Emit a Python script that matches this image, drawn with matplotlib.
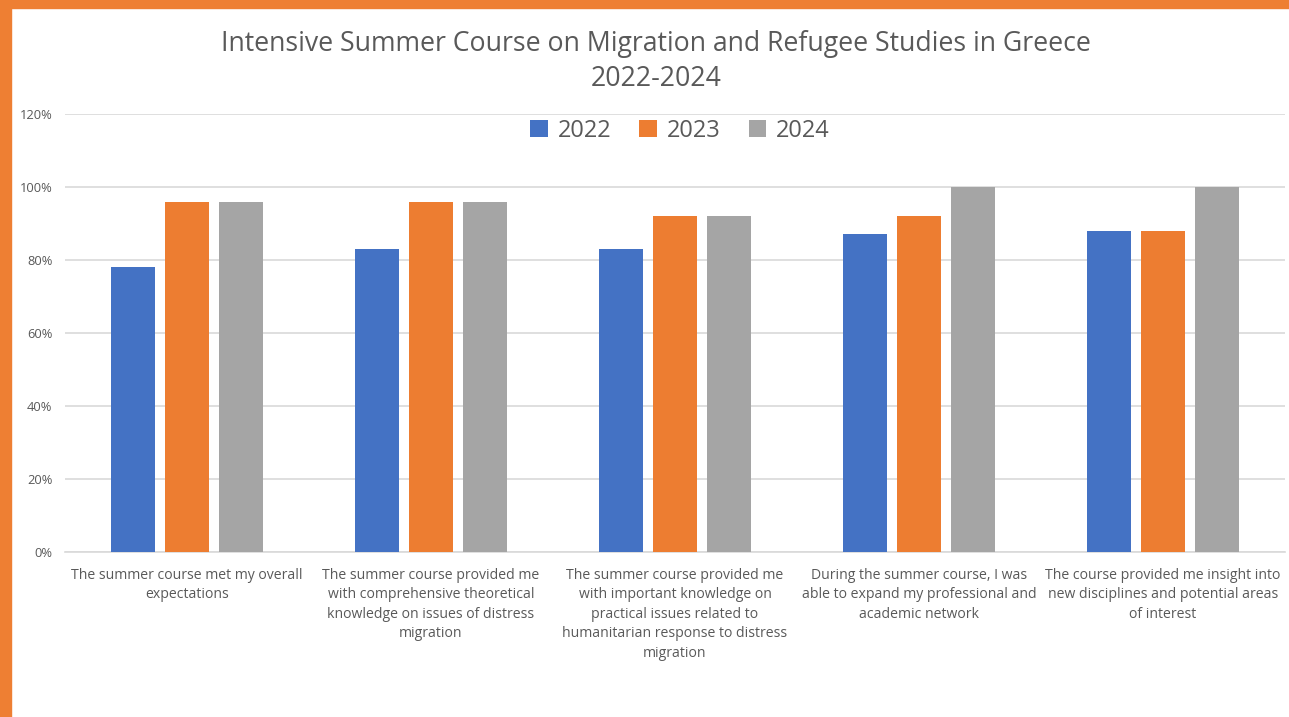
import matplotlib.pyplot as plt
import matplotlib.patches as patches
import numpy as np

categories = [
    "The summer course met my overall\nexpectations",
    "The summer course provided me\nwith comprehensive theoretical\nknowledge on issues of distress\nmigration",
    "The summer course provided me\nwith important knowledge on\npractical issues related to\nhumanitarian response to distress\nmigration",
    "During the summer course, I was\nable to expand my professional and\nacademic network",
    "The course provided me insight into\nnew disciplines and potential areas\nof interest",
]
years = ["2022", "2023", "2024"]
vals_2022 = [0.78, 0.83, 0.83, 0.87, 0.88]
vals_2023 = [0.96, 0.96, 0.92, 0.92, 0.88]
vals_2024 = [0.96, 0.96, 0.92, 1.00, 1.00]
colors = ["#4472C4", "#ED7D31", "#A5A5A5"]
text_col = "#595959"

plt.rcParams['font.family'] = ['Open Sans', 'DejaVu Sans']

fig = plt.figure(figsize=(12.89, 7.17), dpi=100)
ax = fig.add_axes([0.0504, 0.2301, 0.9465, 0.6109])

# orange frame on left and top
fig.patches.append(patches.Rectangle((0, 0), 11/1289, 1, transform=fig.transFigure,
                                     color="#EE7F33", zorder=0))
fig.patches.append(patches.Rectangle((0, 1 - 8/717), 1, 8/717, transform=fig.transFigure,
                                     color="#EE7F33", zorder=0))

x = np.arange(len(categories))
w = 0.18
step = 0.221
for k, (vals, yr) in enumerate(zip([vals_2022, vals_2023, vals_2024], years)):
    ax.bar(x + (k - 1) * step, vals, w, color=colors[k], label=yr, zorder=3)

ax.set_xlim(-0.5, len(categories) - 0.5)
ax.set_ylim(0, 1.2)
ax.set_yticks(np.arange(0, 1.21, 0.2))
ax.set_yticklabels([f"{int(round(v*100))}%" for v in np.arange(0, 1.21, 0.2)])
ax.yaxis.grid(True, color="#D9D9D9", linewidth=1.2, zorder=0)
ax.set_xticks(x)
ax.set_xticklabels(categories, fontsize=10.1, color=text_col, linespacing=1.4)
for s in ["top", "right", "left"]:
    ax.spines[s].set_visible(False)
ax.spines["bottom"].set_color("#D9D9D9")
ax.spines["bottom"].set_linewidth(1.2)
ax.tick_params(axis="both", length=0, colors=text_col)
ax.tick_params(axis="y", labelsize=9.3, pad=9)
ax.tick_params(axis="x", pad=11.5)

leg = ax.legend(loc="center", bbox_to_anchor=(0.504, 0.962), ncol=3, frameon=False,
                fontsize=17, handlelength=0.75, handleheight=0.75, columnspacing=1.2,
                handletextpad=0.4)
for t in leg.get_texts():
    t.set_color(text_col)

fig.text(0.509, 0.914, "Intensive Summer Course on Migration and Refugee Studies in Greece\n2022-2024",
         ha="center", va="center", fontsize=19.2, color=text_col, linespacing=1.33)

fig.savefig("out.png", dpi=100)
